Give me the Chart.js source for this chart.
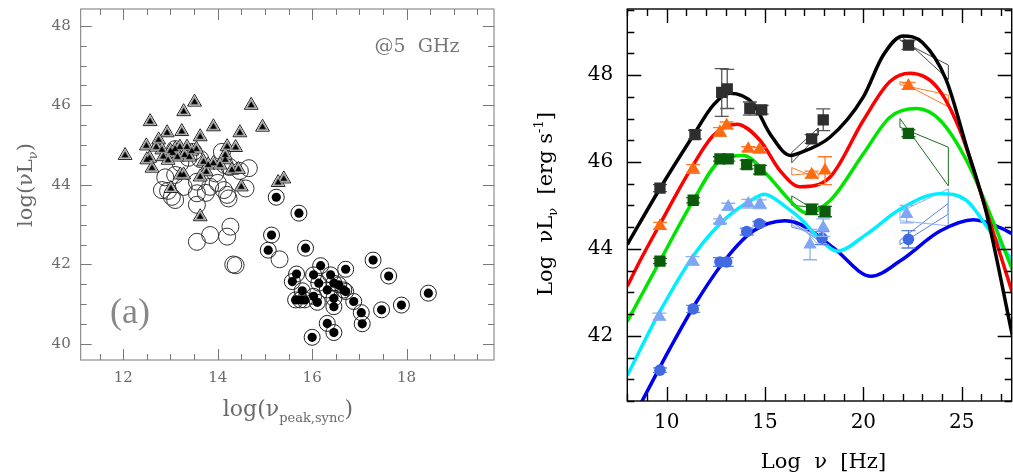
<!DOCTYPE html>
<html><head><meta charset="utf-8">
<script src="https://cdn.jsdelivr.net/npm/chart.js@4/dist/chart.umd.min.js"></script>
<style>
html,body{margin:0;padding:0;background:#fff;width:1013px;height:474px;overflow:hidden}
#c1{position:absolute;left:0;top:0}
#c2{position:absolute;left:520px;top:0}
</style></head><body>
<canvas id="c1" width="520" height="474"></canvas>
<canvas id="c2" width="493" height="474"></canvas>
<script>
// ---------- Panel (a) data ----------
const triX = [12.04,12.57,13.28,13.51,14.71,14.95,12.93,13.24,13.63,13.91,14.47,12.49,12.75,12.56,12.61,12.82,12.85,13.0,13.1,13.2,13.35,13.45,13.3,13.15,13.21,13.28,13.01,13.63,13.70,13.80,13.91,13.76,14.20,14.38,14.16,14.16,14.30,14.44,14.50,15.28,15.40,12.5,13.63,13.05,12.95,13.4,14.05,12.7,13.55];
const triY = [44.74,45.59,45.84,46.08,46.00,45.45,45.31,45.34,45.21,45.46,45.31,44.98,45.13,44.67,44.42,44.88,44.71,44.85,44.9,44.95,44.95,44.85,44.75,44.7,44.25,44.25,43.91,43.20,44.58,44.50,44.54,44.33,44.96,44.94,44.63,44.75,44.37,44.39,43.95,44.06,44.15,44.63,44.2,44.8,44.62,44.7,44.5,44.95,44.9];
const openX = [12.89,13.10,13.28,12.82,13.03,13.10,13.56,13.56,13.56,13.84,13.95,14.13,14.20,14.23,14.59,14.66,14.47,14.09,13.49,13.21,13.38,13.56,13.84,14.20,14.27,14.33,14.38,15.31,13.1,13.63,14.25,14.15,12.95,14.0,13.75];
const openY = [44.19,44.25,43.95,43.87,43.70,43.62,44.08,43.79,43.50,43.95,44.29,43.87,43.75,43.66,43.91,44.42,44.35,44.83,44.83,44.55,44.68,42.57,42.74,42.70,42.95,42.0,41.98,42.13,44.9,44.65,44.45,44.5,43.85,44.05,43.8];
const dotX = [15.24,15.72,15.14,15.07,15.86,16.18,16.71,17.29,17.62,18.46,17.89,17.47,17.06,17.04,16.88,16.46,16.46,16.32,16.46,16.0,16.11,16.03,15.67,15.58,15.79,15.65,15.75,15.84,16.03,16.14,16.39,16.46,16.56,16.67,16.32,16.71];
const dotY = [43.69,43.29,42.74,42.36,42.41,41.97,41.88,42.11,41.71,41.28,40.98,40.86,40.51,40.79,41.07,40.94,41.15,40.52,40.29,40.17,41.05,41.2,41.76,41.57,41.34,41.11,41.11,41.11,41.74,41.53,41.74,41.53,41.49,41.36,41.36,41.32];
const ticksAX = [12,14,16,18];
const ticksAY = [40,42,44,46,48];

// ---------- Panel (b) data ----------
const blackCurveX = [8,9.66,11.35,12.37,13.2,14.4,15.25,16.3,16.7,18.3,20.0,21.0,22.0,23.0,24.2,25.25,26.27,27.6];
const blackCurveY = [44.1,45.39,46.61,47.31,47.58,47.34,46.65,46.15,46.2,46.57,47.5,48.45,48.9,48.75,47.9,46.34,44.8,41.95];
const redCurveX = [8,8.64,9.66,11.18,12.37,13.56,14.74,15.76,16.78,18.3,20.0,21.35,22.37,23.73,24.91,26.1,27.6];
const redCurveY = [43.14,43.72,44.57,45.80,46.61,46.87,46.5,45.8,45.43,45.65,46.96,47.85,48.04,47.73,46.73,45.1,42.95];
const greenCurveX = [8,9.66,11.35,12.71,13.9,15.08,16.27,17.05,18.3,20.0,21.35,22.71,23.9,25.25,26.44,27.6];
const greenCurveY = [42.33,43.72,45.11,46.03,46.15,45.72,45.11,44.84,45.11,46.19,47.03,47.23,46.96,46.03,44.8,43.49];
const cyanCurveX = [8,9.66,11.53,13.05,14.4,14.95,16.1,16.8,17.8,18.65,20.17,21.86,23.9,25.25,26.44,27.6];
const cyanCurveY = [41.09,42.56,43.95,44.72,45.15,45.26,44.95,44.7,44.22,43.95,44.34,44.91,45.27,45.11,44.41,43.72];
const blueCurveX = [8,8.81,10.17,11.53,13.05,14.4,16.0,16.78,18.47,20.4,21.86,23.9,25.6,26.95,27.6];
const blueCurveY = [39.86,40.55,41.71,42.79,43.79,44.41,44.65,44.57,44.03,43.37,43.72,44.41,44.67,44.49,44.34];

const blkPtX = [9.66,11.44,12.8,13.08,14.23,14.83,17.37,17.96,22.29];
const blkPtY = [45.4,46.63,47.6,47.68,47.23,47.2,46.53,46.97,48.69];
const blkErr = [0.08,0.1,0.55,0.45,0.15,0.1,0.1,0.25,0.1];
const orgPtX = [9.66,11.35,12.71,13.05,14.15,14.71,17.37,18.05,22.29];
const orgPtY = [44.53,45.84,46.69,46.84,46.3,46.28,45.71,45.8,47.75];
const orgErr = [0.08,0.1,0.1,0.08,0.05,0.05,0.08,0.32,0.08];
const grnPtX = [9.66,11.35,12.71,13.13,14.07,14.74,17.37,18.05,22.29];
const grnPtY = [43.72,45.12,46.07,46.07,45.94,45.82,44.91,44.86,46.66];
const grnErr = [0.06,0.06,0.05,0.05,0.1,0.1,0.12,0.12,0.08];
const lbPtX = [9.63,11.32,12.71,13.13,14.15,14.74,17.29,17.96,22.2];
const lbPtY = [42.44,43.72,44.64,44.97,45.04,45.03,44.1,44.49,44.8];
const lbErr = [0.08,0.1,0.05,0.08,0.1,0.1,0.35,0.2,0.2];
const rbPtX = [9.66,11.35,12.71,13.05,14.07,14.71,17.9,22.29];
const rbPtY = [41.21,42.62,43.7,43.7,44.4,44.58,44.25,44.22];
const rbErr = [0.05,0.08,0.1,0.1,0.08,0.05,0.15,0.2];

// bow-ties (X-ray and gamma-ray), polygon vertices
const bowX_x = [16.36,17.7,17.7,16.36,16.36];
const bowX_g = [21.86,24.32,24.32,21.86,21.86];
const blkBowXY = [46.22,46.78,46.62,45.98,46.22];
const blkBowGY = [48.92,47.9,48.23,48.8,48.92];
const orgBowXY = [45.87,45.62,45.75,45.7,45.87];
const orgBowGY = [47.85,47.27,47.54,47.78,47.85];
const grnBowXY = [45.22,44.85,44.95,45.0,45.22];
const grnBowGY = [47.0,45.45,46.34,46.8,47.0];
const lbBowXY = [44.75,44.1,44.25,44.55,44.75];
const lbBowGY = [44.85,45.38,44.53,44.65,44.85];
const rbBowXY = [44.62,44.2,44.35,44.5,44.62];
const rbBowGY = [44.2,45.05,44.8,44.1,44.2];
const ticksBX = [10,15,20,25];
const ticksBY = [42,44,46,48];

// ---------- helpers ----------
const pts = (xs, ys) => xs.map((x, i) => ({x, y: ys[i]}));

const frameTicks = {
  id: 'frameTicks',
  afterDraw(chart, args, o) {
    const {ctx, chartArea: a} = chart;
    const x = chart.scales.x, y = chart.scales.y;
    ctx.save();
    ctx.strokeStyle = o.color; ctx.lineWidth = o.width;
    ctx.beginPath();
    const each = (sc, major, minor, cb) => {
      const start = Math.ceil(sc.min / minor - 1e-9) * minor;
      for (let v = start; v <= sc.max + 1e-9; v += minor) {
        const isMaj = Math.abs(v / major - Math.round(v / major)) < 1e-6;
        cb(Math.round(sc.getPixelForValue(v)) + 0.5, isMaj ? o.majorLen : o.minorLen);
      }
    };
    each(x, o.xMajor, o.xMinor, (p, L) => {
      ctx.moveTo(p, a.bottom); ctx.lineTo(p, a.bottom - L);
      ctx.moveTo(p, a.top); ctx.lineTo(p, a.top + L);
    });
    each(y, o.yMajor, o.yMinor, (p, L) => {
      ctx.moveTo(a.left, p); ctx.lineTo(a.left + L, p);
      ctx.moveTo(a.right, p); ctx.lineTo(a.right - L, p);
    });
    ctx.stroke();
    ctx.strokeRect(a.left, a.top, a.right - a.left, a.bottom - a.top);
    ctx.restore();
  }
};

const richText = {
  id: 'richText',
  afterDraw(chart, args, o) {
    const ctx = chart.ctx;
    (o.items || []).forEach(it => {
      ctx.save();
      ctx.translate(it.x, it.y);
      if (it.rot) ctx.rotate(it.rot);
      ctx.fillStyle = it.color;
      ctx.textBaseline = 'alphabetic';
      let w = 0;
      it.segs.forEach(s => { ctx.font = s.font; s.w = ctx.measureText(s.t).width; w += s.w; });
      let cx = -w / 2;
      it.segs.forEach(s => { ctx.font = s.font; ctx.fillText(s.t, cx, (s.dy || 0) + it.base); cx += s.w; });
      ctx.restore();
    });
  }
};

const errorBars = {
  id: 'errorBars',
  beforeDatasetDraw(chart, args) {
    const ds = chart.data.datasets[args.index];
    if (!ds.errs) return;
    const {ctx} = chart; const x = chart.scales.x, y = chart.scales.y;
    const cap = 7;
    ctx.save();
    ctx.strokeStyle = ds.errColor; ctx.lineWidth = 1.3;
    ds.data.forEach((p, i) => {
      const e = ds.errs[i];
      const px = x.getPixelForValue(p.x);
      const y1 = y.getPixelForValue(p.y + e), y2 = y.getPixelForValue(p.y - e);
      ctx.beginPath();
      ctx.moveTo(px, y1); ctx.lineTo(px, y2);
      ctx.moveTo(px - cap, y1); ctx.lineTo(px + cap, y1);
      ctx.moveTo(px - cap, y2); ctx.lineTo(px + cap, y2);
      ctx.stroke();
    });
    ctx.restore();
  }
};

Chart.register(frameTicks, richText, errorBars);

const fixTicks = list => s => { s.ticks = list.map(v => ({value: v})); };
const fitH = h => s => { s.height = h; s.paddingLeft = 0; s.paddingRight = 0; s.paddingTop = 0; s.paddingBottom = 0; };
const fitW = w => s => { s.width = w; s.paddingLeft = 0; s.paddingRight = 0; s.paddingTop = 0; s.paddingBottom = 0; };

// ---------- Chart (a) ----------
const greyTxt = '#6a6a6a';
new Chart(document.getElementById('c1'), {
  type: 'scatter',
  data: {
    datasets: [
      {data: pts(triX, triY), pointStyle: 'triangle', pointRadius: 3.3, backgroundColor: '#000', borderColor: '#000', borderWidth: 0.5, order: 0},
      {data: pts(triX, triY), pointStyle: 'triangle', pointRadius: 5.8, backgroundColor: '#999', borderColor: '#888', borderWidth: 0.5, order: 1},
      {data: pts(triX, triY), pointStyle: 'triangle', pointRadius: 8, backgroundColor: '#fff', borderColor: '#222', borderWidth: 1, order: 2},
      {data: pts(dotX, dotY), pointStyle: 'circle', pointRadius: 4.6, backgroundColor: '#000', borderColor: '#000', borderWidth: 0, order: 3},
      {data: pts(dotX, dotY), pointStyle: 'circle', pointRadius: 8, backgroundColor: 'rgba(255,255,255,0)', borderColor: '#222', borderWidth: 1, order: 4},
      {data: pts(openX, openY), pointStyle: 'circle', pointRadius: 8.5, backgroundColor: 'rgba(255,255,255,0)', borderColor: '#333', borderWidth: 1, order: 5}
    ]
  },
  options: {
    responsive: false, animation: false, events: [],
    layout: {autoPadding: false, padding: {left: 0.7, right: 26, top: 9, bottom: 74}},
    scales: {
      x: {type: 'linear', min: 11.1, max: 19.85,
          grid: {display: false, drawTicks: false}, border: {display: false},
          ticks: {font: {family: 'DejaVu Serif', size: 15}, color: greyTxt, padding: 9, maxRotation: 0},
          afterBuildTicks: fixTicks(ticksAX), afterFit: fitH(40)},
      y: {type: 'linear', min: 39.6, max: 48.42,
          grid: {display: false, drawTicks: false}, border: {display: false},
          ticks: {font: {family: 'DejaVu Serif', size: 15}, color: greyTxt, padding: 10},
          afterBuildTicks: fixTicks(ticksAY), afterFit: fitW(80)}
    },
    plugins: {
      legend: {display: false}, tooltip: {enabled: false},
      frameTicks: {color: '#777', width: 1, majorLen: 11, minorLen: 6, xMajor: 2, xMinor: 0.5, yMajor: 2, yMinor: 0.5},
      richText: {items: [
        {x: 417, y: 44.5, base: 7, color: '#777', segs: [{t: '@5  GHz', font: '19px "DejaVu Serif"'}]},
        {x: 130, y: 311, base: 12, color: '#888', segs: [{t: '(a)', font: '36px "Liberation Serif"'}]},
        {x: 25, y: 185, rot: -Math.PI / 2, base: 7, color: greyTxt, segs: [
          {t: 'log(\u03BDL', font: '21px "DejaVu Serif"'},
          {t: '\u03BD', font: '13px "DejaVu Serif"', dy: 5},
          {t: ')', font: '21px "DejaVu Serif"'}]},
        {x: 288, y: 409, base: 7, color: greyTxt, segs: [
          {t: 'log(\u03BD', font: '22px "DejaVu Serif"'},
          {t: 'peak,sync', font: '13px "DejaVu Serif"', dy: 6},
          {t: ')', font: '22px "DejaVu Serif"'}]}
      ]}
    }
  }
});

// ---------- Chart (b) ----------
const curve = (xs, ys, color, order) => ({data: pts(xs, ys), showLine: true, pointRadius: 0, borderColor: color, borderWidth: 3.5, cubicInterpolationMode: 'monotone', fill: false, order});
const bow = (xs, ys, color) => ({data: pts(xs, ys), showLine: true, pointRadius: 0, borderColor: color, borderWidth: 1, tension: 0, fill: false, order: 20});
const marks = (xs, ys, errs, style, r, color, errColor, order) => ({data: pts(xs, ys), errs, errColor, pointStyle: style, pointRadius: r, backgroundColor: color, borderColor: color, borderWidth: 0, order});

new Chart(document.getElementById('c2'), {
  type: 'scatter',
  data: {
    datasets: [
      marks(blkPtX, blkPtY, blkErr, 'rect', 8, '#2e2e2e', '#555', 1),
      marks(orgPtX, orgPtY, orgErr, 'triangle', 7.8, '#ff6a10', '#ff7a2a', 2),
      marks(grnPtX, grnPtY, grnErr, 'rect', 8, '#0a5c0a', '#1d6e1d', 3),
      marks(lbPtX, lbPtY, lbErr, 'triangle', 7.8, '#7fa6f2', '#8fb0f2', 4),
      marks(rbPtX, rbPtY, rbErr, 'circle', 5.8, '#4169e1', '#5a80e8', 5),
      curve(blackCurveX, blackCurveY, '#000000', 10),
      curve(redCurveX, redCurveY, '#ff0000', 11),
      curve(greenCurveX, greenCurveY, '#00e400', 12),
      curve(cyanCurveX, cyanCurveY, '#00eeff', 13),
      curve(blueCurveX, blueCurveY, '#0000f0', 14),
      bow(bowX_x, blkBowXY, '#444'), bow(bowX_g, blkBowGY, '#444'),
      bow(bowX_x, orgBowXY, '#ff7a2a'), bow(bowX_g, orgBowGY, '#ff7a2a'),
      bow(bowX_x, grnBowXY, '#1d6e1d'), bow(bowX_g, grnBowGY, '#1d6e1d'),
      bow(bowX_x, lbBowXY, '#8fb0f2'), bow(bowX_g, lbBowGY, '#8fb0f2'),
      bow(bowX_x, rbBowXY, '#5a80e8'), bow(bowX_g, rbBowGY, '#5a80e8')
    ]
  },
  options: {
    responsive: false, animation: false, events: [],
    layout: {autoPadding: false, padding: {left: 0, right: 1.3, top: 9, bottom: 33}},
    scales: {
      x: {type: 'linear', min: 8, max: 27.54,
          grid: {display: false, drawTicks: false}, border: {display: false},
          ticks: {font: {family: 'DejaVu Serif', size: 20}, color: '#000', padding: 10, maxRotation: 0},
          afterBuildTicks: fixTicks(ticksBX), afterFit: fitH(40)},
      y: {type: 'linear', min: 40.5, max: 49.52,
          grid: {display: false, drawTicks: false}, border: {display: false},
          ticks: {font: {family: 'DejaVu Serif', size: 20}, color: '#000', padding: 14},
          afterBuildTicks: fixTicks(ticksBY), afterFit: fitW(107.3)}
    },
    plugins: {
      legend: {display: false}, tooltip: {enabled: false},
      frameTicks: {color: '#000', width: 1.4, majorLen: 14, minorLen: 7, xMajor: 5, xMinor: 1, yMajor: 2, yMinor: 0.5},
      richText: {items: [
        {x: 303.5, y: 461, base: 7, color: '#000', segs: [{t: 'Log  \u03BD  [Hz]', font: '21px "DejaVu Serif"'}]},
        {x: 25, y: 204, rot: -Math.PI / 2, base: 7, color: '#000', segs: [
          {t: 'Log  \u03BDL', font: '21px "DejaVu Serif"'},
          {t: '\u03BD', font: '13px "DejaVu Serif"', dy: 5},
          {t: '  [erg s', font: '21px "DejaVu Serif"'},
          {t: '-1', font: '13px "DejaVu Serif"', dy: -9},
          {t: ']', font: '21px "DejaVu Serif"'}]}
      ]}
    }
  }
});
</script>
</body></html>
